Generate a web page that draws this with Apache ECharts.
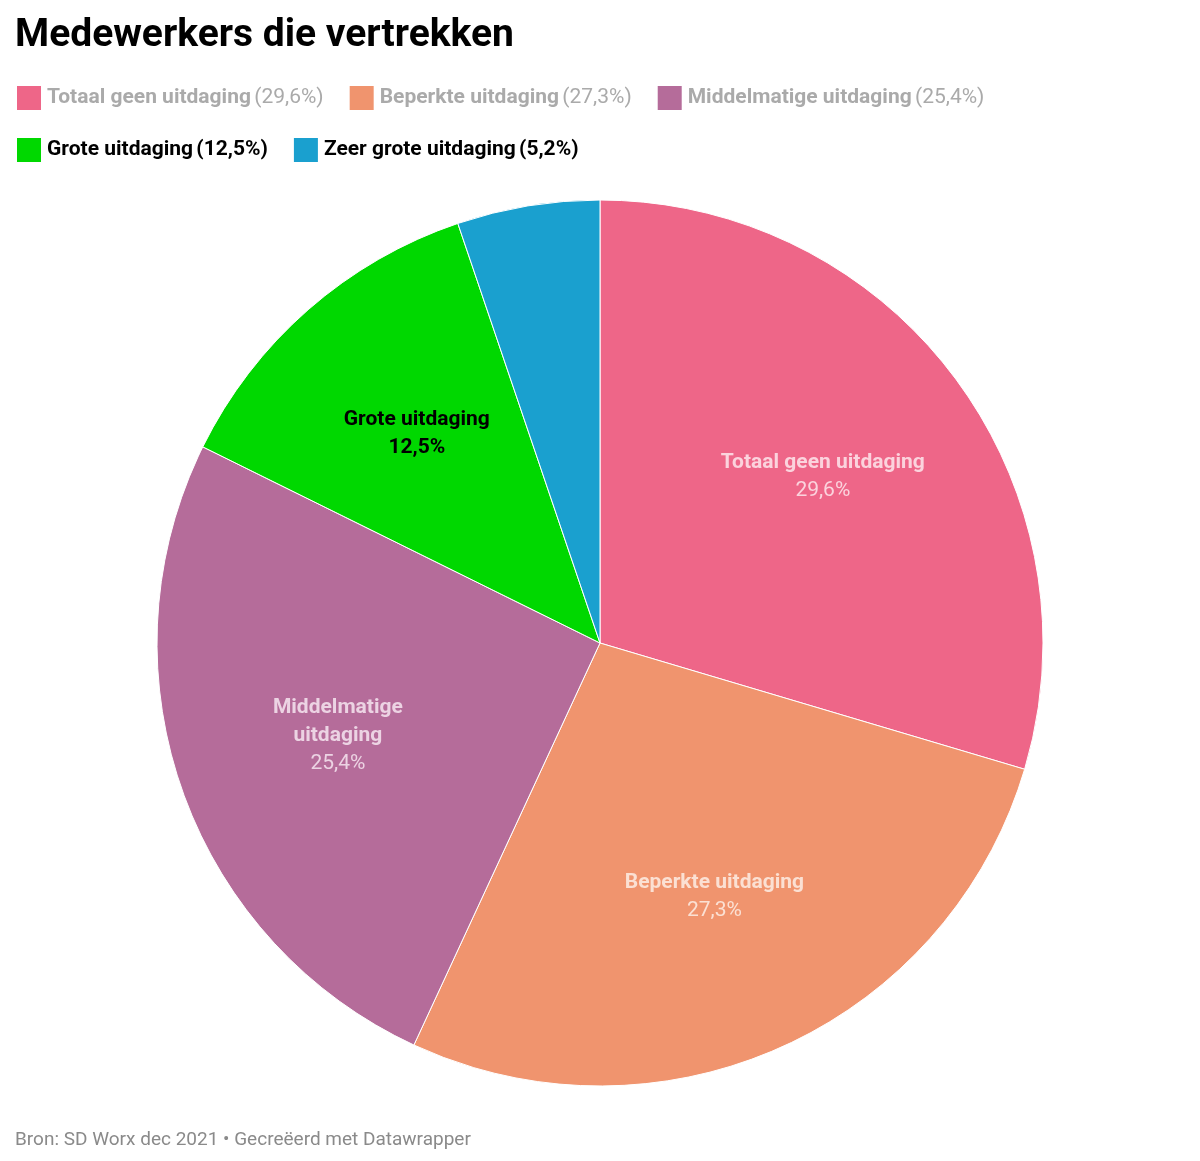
<!DOCTYPE html>
<html>
<head>
<meta charset="utf-8">
<script src="https://cdn.jsdelivr.net/npm/echarts@6/dist/echarts.min.js"></script>
<style>html,body{margin:0;padding:0;background:#fff}#main{width:1200px;height:1161px}</style>
</head>
<body>
<div id="main"></div>
<script>
// data
var categories = ['Totaal geen uitdaging', 'Beperkte uitdaging', 'Middelmatige uitdaging', 'Grote uitdaging', 'Zeer grote uitdaging'];
var values = [29.6, 27.3, 25.4, 12.5, 5.2];
var colors = ['#ee6688', '#f0946e', '#b56c9a', '#00d800', '#1aa0cf'];
var labelTexts = ['Totaal geen uitdaging', 'Beperkte uitdaging', 'Middelmatige\nuitdaging', 'Grote uitdaging', ''];
var labelColors = ['#fbd3dd', '#fbe0d3', '#ecd3e3', '#000000', '#ffffff'];

function pct(v) { return v.toFixed(1).replace('.', ',') + '%'; }

var myChart = echarts.init(document.getElementById('main'));
var font = 'Roboto';

var legendData = categories.map(function (c, i) {
    var bold = i >= 3;
    return {
        name: c,
        textStyle: {
            rich: {
                n: { fontFamily: font, fontSize: 21, fontWeight: bold ? 'bold' : 'bold', color: bold ? '#000' : '#aaaaaa' },
                p: { fontFamily: font, fontSize: 21, fontWeight: bold ? 'bold' : 'normal', color: bold ? '#000' : '#aaaaaa' }
            }
        }
    };
});

var option = {
    title: [{
        text: 'Medewerkers die vertrekken',
        left: 10, top: 12,
        textStyle: { fontFamily: font, fontSize: 39, fontWeight: 'bold', color: '#000' }
    }, {
        text: 'Bron: SD Worx dec 2021 • Gecreëerd met Datawrapper',
        left: 10, top: 1126,
        textStyle: { fontFamily: font, fontSize: 19, fontWeight: 'normal', color: '#8a8a8a' }
    }],
    legend: {
        left: 10, top: 79, width: 1120,
        itemWidth: 26, itemHeight: 26, itemGap: 24,
        icon: 'rect',
        selectedMode: false,
        data: legendData,
        formatter: function (name) {
            var i = categories.indexOf(name);
            return '{n|' + name + '} {p|(' + pct(values[i]) + ')}';
        }
    },
    series: [{
        type: 'pie',
        center: [600, 643],
        radius: [0, 443],
        startAngle: 90,
        clockwise: true,
        silent: true,
        label: { show: false },
        labelLine: { show: false },
        itemStyle: { borderColor: '#ffffff', borderWidth: 1 },
        data: categories.map(function (c, i) {
            return { name: c, value: values[i], itemStyle: { color: colors[i] } };
        })
    }, {
        // transparent layer used only to place the labels further out
        type: 'pie',
        center: [600, 643],
        radius: [0, 550],
        startAngle: 90,
        clockwise: true,
        silent: true,
        legendHoverLink: false,
        labelLine: { show: false },
        itemStyle: { color: 'rgba(0,0,0,0)' },
        data: categories.map(function (c, i) {
            return {
                name: c + ' ', value: values[i],
                label: {
                    show: i < 4,
                    position: 'inside',
                    formatter: '{a|' + labelTexts[i] + '}\n{b|' + pct(values[i]) + '}',
                    rich: {
                        a: { fontFamily: font, fontSize: 21, fontWeight: 'bold', color: labelColors[i], lineHeight: 28, align: 'center' },
                        b: { fontFamily: font, fontSize: 21, fontWeight: i == 3 ? 'bold' : 'normal', color: labelColors[i], lineHeight: 28, align: 'center' }
                    }
                }
            };
        })
    }]
};

myChart.setOption(option);
</script>
</body>
</html>
